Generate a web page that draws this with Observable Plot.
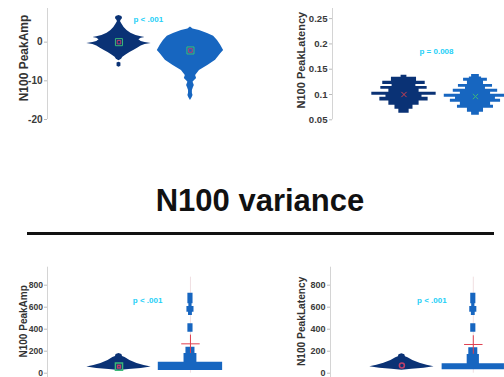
<!DOCTYPE html>
<html><head><meta charset="utf-8">
<script src="https://cdn.jsdelivr.net/npm/d3@7"></script>
<script src="https://cdn.jsdelivr.net/npm/@observablehq/plot@0.6"></script>
<style>
html,body{margin:0;padding:0;background:#fff;}
#root{position:relative;width:504px;height:377px;overflow:hidden;font-family:Arial,"Liberation Sans",sans-serif;background:#fff;}
.panel{position:absolute;}
#title{position:absolute;left:0;width:520px;text-align:center;top:185px;font-size:31px;font-weight:bold;line-height:31px;color:#111;white-space:nowrap;}
#rule{position:absolute;left:27px;width:467px;top:232px;height:3px;background:#111;}
</style></head><body><div id="root"><div id="title">N100 variance</div><div id="rule"></div></div>
<script>
// ---------- data ----------
const groups = [1, 2];
// Top-left: N100 PeakAmp (density relative, 100 = widest)
const v1Val = [6.9,6.6,6.1,5.6,5.3,4.7,3.8,3.0,2.3,1.7,1.4,1.2,1.0,0.6,0.2,-0.1,-0.34,-0.6,-1.0,-1.5,-2.1,-2.7,-3.3,-3.9,-4.4,-4.8,-5.2,-5.4,-6.2,-6.5];
const v1Den = [0,9,11,6,5,9,16,25,37,53,69,81,69,62,69,81,100,81,69,59,47,34,22,12,8,0,0,6,6,0];
const v2Val = [3.9,3.4,3.0,2.25,1.5,0.44,-0.8,-2.15,-3.0,-4.7,-6.0,-7.3,-8.6,-9.4,-10.0,-10.4,-11.2,-11.8,-12.5,-13.2,-13.8,-14.4,-15.1];
const v2Den = [0,8,28,53,72,84,94,103,94,78,55,28,16,19,12,8,12,9,6,6,8,5,0];
const ampMedians = [0, -2.15];
const ampTicks = [0, -10, -20];
// Top-right: N100 PeakLatency (binned densities)
const v3Lo = [0.134,0.126,0.120,0.116,0.1105,0.1045,0.0985,0.0945,0.087,0.083,0.079,0.071,0.063];
const v3Hi = [0.138,0.134,0.126,0.120,0.116,0.1105,0.1045,0.0985,0.0945,0.087,0.083,0.079,0.071];
const v3Den = [9,39,66,37,72,47,100,56,75,47,47,28,16];
const v4Lo = [0.1345,0.132,0.126,0.120,0.1145,0.1105,0.1045,0.1005,0.0945,0.0905,0.0848,0.079,0.073,0.065,0.059];
const v4Hi = [0.1395,0.1345,0.132,0.126,0.120,0.1145,0.1105,0.1045,0.1005,0.0945,0.0905,0.0848,0.079,0.073,0.065];
const v4Den = [12,19,37,25,53,31,69,47,97,62,78,47,56,25,12];
const latMedians = [0.1, 0.096];
const latTicks = [0.05, 0.1, 0.15, 0.2, 0.25];
// Bottom-left: variance of N100 PeakAmp
const v5Val = [179,170,152,143,115,88,70,56,43,34,25];
const v5Den = [0,9,11,19,34,56,78,100,69,31,0];
const v6Lo = [631,606,555,525,373,180,100,25];
const v6Hi = [727,631,606,555,449,236,180,100];
const v6Den = [8,5,11,6,8,14,20,100];
const varAmpCenters = [60, 267];
const whiskerTop = [873, 873];
// Bottom-right: variance of N100 PeakLatency
const v7Val = [178,168,150,140,115,90,72,58,45,35,27];
const v7Den = [0,9,11,19,34,56,78,100,69,31,0];
const v8Lo = [631,606,555,525,373,170,85,31];
const v8Hi = [727,631,606,555,449,231,170,85];
const v8Den = [8,5,11,6,8,14,19,97];
const varLatCenters = [70, 261];
const varTicks = [0, 200, 400, 600, 800];
// p-value annotations
const pTexts = ["p < .001", "p = 0.008", "p < .001", "p < .001"];
const pX = [1.41, 1.455, 1.40, 1.42];
const pY = [5.87, 0.1857, 661, 661];

// ---------- drawing ----------
const NAVY = "#0a3275", BLUE = "#1766c0", PCOL = "#24cff7";
const HALF = 0.45;

function violinArea(vals, dens, g, color) {
  const data = vals.map((v, i) => ({y: v, d: dens[i] / 100}));
  return Plot.areaX(data, {y: "y", x1: d => g - HALF * d.d, x2: d => g + HALF * d.d, fill: color, curve: "linear"});
}
// binned (histogram-like) violin drawn as one stepped outline
function violinBands(lo, hi, dens, g, color) {
  const bins = lo.map((l, i) => ({lo: l, hi: hi[i], d: dens[i] / 100})).sort((a, b) => b.hi - a.hi);
  const pts = [];
  bins.forEach((b, i) => {
    if (i > 0 && bins[i - 1].lo > b.hi + 1e-9) { pts.push({y: bins[i - 1].lo, d: 0}); pts.push({y: b.hi, d: 0}); }
    else if (i === 0) pts.push({y: b.hi, d: 0});
    pts.push({y: b.hi, d: b.d});
    pts.push({y: b.lo, d: b.d});
  });
  pts.push({y: bins[bins.length - 1].lo, d: 0});
  return Plot.areaX(pts, {y: "y", x1: d => g - HALF * d.d, x2: d => g + HALF * d.d, fill: color, curve: "linear"});
}

function panel(cfg) {
  const p = Plot.plot({
    width: cfg.w, height: cfg.h,
    marginLeft: cfg.ml, marginRight: 0, marginTop: cfg.mt, marginBottom: cfg.mb,
    x: {domain: [0, cfg.xmax], axis: null},
    y: {domain: cfg.yDomain, axis: null},
    style: {fontFamily: "Arial, 'Liberation Sans', sans-serif", background: "transparent", overflow: "visible"},
    marks: [
      Plot.ruleX([0], {stroke: "#d4d4d4"}),
      Plot.axisY({ticks: cfg.ticks, tickFormat: d => String(d), tickSize: 3, tickPadding: cfg.tp,
        color: "#3a3a3a", stroke: "#bbb", fontWeight: "bold", fontSize: cfg.tfs, label: null}),
      Plot.text([cfg.label], {frameAnchor: "left", textAnchor: "middle", lineAnchor: "middle", rotate: -90, dx: cfg.ldx, dy: cfg.ldy,
        fontSize: cfg.lfs, fontWeight: "bold", fill: "#333"}),
      ...cfg.marks,
      Plot.text([cfg.pText], {x: () => cfg.px, y: () => cfg.py, fill: PCOL, fontSize: 8, fontWeight: "bold"})
    ]
  });
  p.classList.add("panel");
  p.style.left = cfg.left + "px";
  p.style.top = cfg.top + "px";
  document.getElementById("root").appendChild(p);
}

// Top-left
panel({
  left: 0, top: 0, w: 240, h: 130, ml: 47, mt: 8, mb: 11, xmax: 2.7,
  yDomain: [-20, 8.7], ticks: ampTicks, tfs: 10, tp: 2,
  label: "N100 PeakAmp", ldx: -23, ldy: -6, lfs: 12,
  pText: pTexts[0], px: pX[0], py: pY[0],
  marks: [
    violinArea(v1Val, v1Den, groups[0], NAVY),
    violinArea(v2Val, v2Den, groups[1], BLUE),
    Plot.dot(groups, {x: d => d, y: (d, i) => ampMedians[i], symbol: "square", r: 4, stroke: "#3cb878", strokeWidth: 1, fill: "none"}),
    Plot.dot(groups, {x: d => d, y: (d, i) => ampMedians[i], symbol: "square", r: 2, stroke: "#c0406a", strokeWidth: 1, fill: "none"})
  ]
});

// Top-right
panel({
  left: 252, top: 0, w: 252, h: 130, ml: 80, mt: 8, mb: 10.7, xmax: 2.406,
  yDomain: [0.05, 0.27], ticks: latTicks, tfs: 9.6, tp: 2,
  label: "N100 PeakLatency", ldx: -31, ldy: -4, lfs: 11,
  pText: pTexts[1], px: pX[1], py: pY[1],
  marks: [
    violinBands(v3Lo, v3Hi, v3Den, groups[0], NAVY),
    violinBands(v4Lo, v4Hi, v4Den, groups[1], BLUE),
    Plot.dot([groups[0]], {x: d => d, y: () => latMedians[0], symbol: "times", r: 2.5, stroke: "#d04050", strokeWidth: 1}),
    Plot.dot([groups[1]], {x: d => d, y: () => latMedians[1], symbol: "times", r: 2.5, stroke: "#3cb878", strokeWidth: 1})
  ]
});

// Bottom-left
panel({
  left: 0, top: 260, w: 240, h: 117, ml: 47, mt: 6.7, mb: 0, xmax: 2.7,
  yDomain: [-39, 963.6], ticks: varTicks, tfs: 8.6, tp: 1.5,
  label: "N100 PeakAmp", ldx: -24, ldy: -1, lfs: 10,
  pText: pTexts[2], px: pX[2], py: pY[2],
  marks: [
    Plot.ruleX([groups[1]], {x: d => d, y1: 0, y2: () => whiskerTop[0], stroke: "#f0dfe2", strokeWidth: 1}),
    violinArea(v5Val, v5Den, groups[0], NAVY),
    violinBands(v6Lo, v6Hi, v6Den, groups[1], BLUE),
    Plot.dot([groups[0]], {x: d => d, y: () => varAmpCenters[0], symbol: "square", r: 4, stroke: "#3cb878", fill: "none"}),
    Plot.dot([groups[0]], {x: d => d, y: () => varAmpCenters[0], symbol: "square", r: 1.5, stroke: "#c0406a", fill: "none"}),
    Plot.dot([groups[1]], {x: d => d, y: () => varAmpCenters[1], symbol: "plus", r: 6, stroke: "#e04050", strokeWidth: 1})
  ]
});

// Bottom-right
panel({
  left: 252, top: 260, w: 252, h: 117, ml: 78, mt: 6.7, mb: 0, xmax: 2.437,
  yDomain: [-39, 963.6], ticks: varTicks, tfs: 9, tp: 2,
  label: "N100 PeakLatency", ldx: -29, ldy: -1, lfs: 10.2,
  pText: pTexts[3], px: pX[3], py: pY[3],
  marks: [
    Plot.ruleX([groups[1]], {x: d => d, y1: 0, y2: () => whiskerTop[1], stroke: "#f0dfe2", strokeWidth: 1}),
    violinArea(v7Val, v7Den, groups[0], NAVY),
    violinBands(v8Lo, v8Hi, v8Den, groups[1], BLUE),
    Plot.dot([groups[0]], {x: d => d, y: () => varLatCenters[0], symbol: "circle", r: 2.5, stroke: "#c0406a", fill: "none"}),
    Plot.dot([groups[1]], {x: d => d, y: () => varLatCenters[1], symbol: "plus", r: 6, stroke: "#e04050", strokeWidth: 1})
  ]
});
</script></body></html>
